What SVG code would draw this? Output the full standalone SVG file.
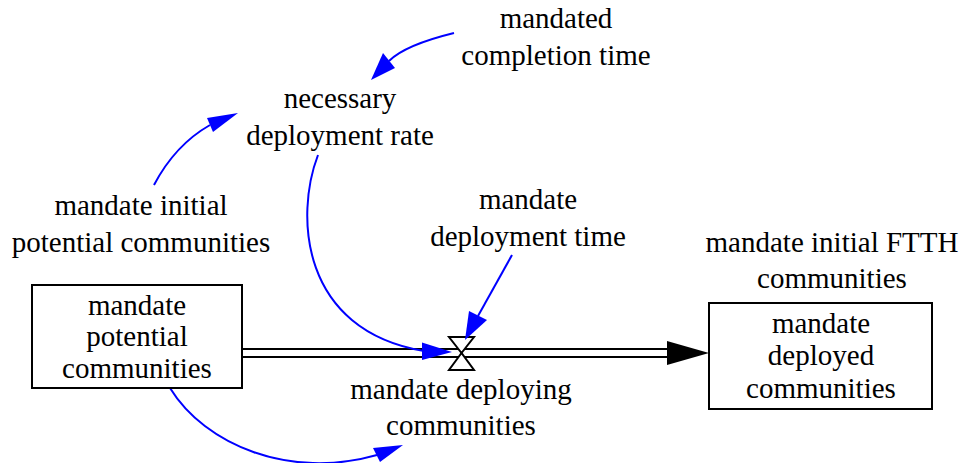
<svg xmlns="http://www.w3.org/2000/svg" width="964" height="463" viewBox="0 0 964 463" font-family="'Liberation Serif', 'DejaVu Serif', serif">
  <style>
    text { font-family: "Liberation Serif", "DejaVu Serif", serif; font-size: 29px; fill: #000; text-anchor: middle; }
    .box { fill: #fff; stroke: #000; stroke-width: 2; }
    .link { fill: none; stroke: #0000ff; stroke-width: 2; }
    .head { fill: #0000ff; stroke: none; }
    .pipe { fill: none; stroke: #000; stroke-width: 2; }
    .valve { fill: #fff; stroke: #000; stroke-width: 2; stroke-linejoin: miter; }
  </style>

  <!-- flow pipe and valve -->
  <g id="flow-mandate-deploying">
    <line class="pipe" x1="242" y1="349" x2="670" y2="349"/>
    <line class="pipe" x1="242" y1="357" x2="670" y2="357"/>
    <polygon points="667,341 709,353 667,365" fill="#000"/>
    <polygon class="valve" points="449,337 474,337 461.5,353"/>
    <polygon class="valve" points="461.5,353 449,370 474,370"/>
  </g>

  <!-- information links -->
  <g id="connectors">
    <path class="link" d="M454,33 Q405,45 389,61"/>
    <polygon class="head" points="371,80 383,53 395,68"/>

    <path class="link" d="M154,185 Q175,145 210,125"/>
    <polygon class="head" points="238,113 207,118 213,132"/>

    <path class="link" d="M318,155 C295,215 300,330 424,351"/>
    <polygon class="head" points="452,352 422,342.5 422,360"/>

    <path class="link" d="M512,255 L478,316"/>
    <polygon class="head" points="465,340 469,311 487,320"/>

    <path class="link" d="M170,388 C205,445 290,480 377,455"/>
    <polygon class="head" points="403,445 373,448 380,462"/>
  </g>

  <g id="mandate-potential-communities">
    <rect class="box" x="32" y="285" width="210" height="103"/>
    <text x="137" y="315">mandate</text>
    <text x="137" y="346">potential</text>
    <text x="137" y="378">communities</text>
  </g>

  <g id="mandate-deployed-communities">
    <rect class="box" x="709" y="303" width="223" height="106"/>
    <text x="821" y="333">mandate</text>
    <text x="821" y="365">deployed</text>
    <text x="821" y="398">communities</text>
  </g>

  <g id="mandated-completion-time">
    <text x="556" y="28">mandated</text>
    <text x="556" y="65">completion time</text>
  </g>

  <g id="necessary-deployment-rate">
    <text x="340" y="108">necessary</text>
    <text x="340" y="145">deployment rate</text>
  </g>

  <g id="mandate-initial-potential-communities">
    <text x="141" y="215">mandate initial</text>
    <text x="141" y="252">potential communities</text>
  </g>

  <g id="mandate-deployment-time">
    <text x="528" y="209">mandate</text>
    <text x="528" y="246">deployment time</text>
  </g>

  <g id="mandate-initial-ftth-communities">
    <text x="832" y="252">mandate initial FTTH</text>
    <text x="832" y="288">communities</text>
  </g>

  <g id="mandate-deploying-communities">
    <text x="461" y="399">mandate deploying</text>
    <text x="461" y="435">communities</text>
  </g>
</svg>
